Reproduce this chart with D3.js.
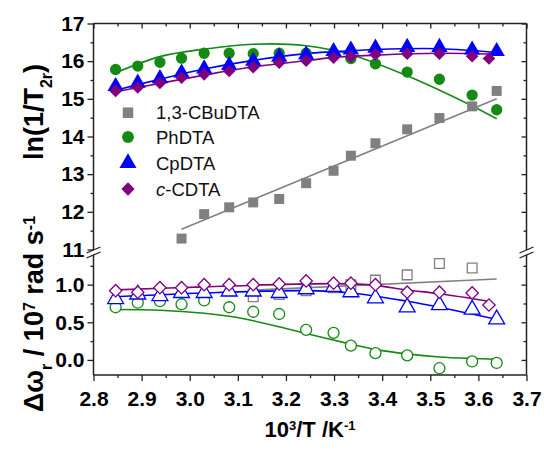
<!DOCTYPE html>
<html><head><meta charset="utf-8">
<script src="https://cdn.jsdelivr.net/npm/d3@7"></script>
<style>body{margin:0;background:#fff}svg{font-family:"Liberation Sans",Arial,sans-serif}</style>
</head><body><svg id="c" width="544" height="450"></svg>
<script>
// ---------- data (10^3/T in K^-1) ----------
const invT = [2.846, 2.892, 2.938, 2.983, 3.030, 3.082, 3.132, 3.186, 3.242, 3.299, 3.335, 3.386, 3.452, 3.519, 3.587, 3.638];
const invTcdta = [2.846, 2.892, 2.938, 2.983, 3.030, 3.082, 3.132, 3.186, 3.242, 3.299, 3.335, 3.386, 3.452, 3.519, 3.587, 3.622];
const invTcbu = [2.983, 3.030, 3.082, 3.132, 3.186, 3.242, 3.299, 3.335, 3.386, 3.452, 3.519, 3.587, 3.638];
const invTcbuDw = [3.132, 3.186, 3.242, 3.299, 3.335, 3.386, 3.452, 3.519, 3.587];

// ln(1/T2r)
const lnCBu  = [11.29, 11.94, 12.12, 12.25, 12.34, 12.76, 13.09, 13.49, 13.82, 14.19, 14.49, 14.80, 15.21];
const lnPh   = [15.78, 15.87, 15.97, 16.08, 16.21, 16.21, 16.20, 16.21, 16.21, 16.15, 16.07, 15.93, 15.71, 15.52, 15.10, 14.71];
const lnCp   = [15.33, 15.42, 15.54, 15.69, 15.80, 15.89, 16.00, 16.11, 16.17, 16.26, 16.30, 16.35, 16.37, 16.37, 16.30, 16.26];
const lnCD   = [15.21, 15.30, 15.42, 15.56, 15.65, 15.74, 15.84, 15.96, 16.01, 16.09, 16.12, 16.18, 16.20, 16.20, 16.13, 16.07];

// delta omega_r / 10^7 rad s^-1
const dwCBu  = [0.84, 0.87, 0.92, 0.96, 1.00, 1.06, 1.13, 1.28, 1.22];
const dwPh   = [0.70, 0.76, 0.78, 0.74, 0.79, 0.70, 0.64, 0.61, 0.40, 0.36, 0.19, 0.09, 0.06, -0.11, -0.02, -0.04];
const dwCp   = [0.81, 0.87, 0.85, 0.89, 0.89, 0.91, 0.91, 0.89, 0.94, 0.97, 0.90, 0.82, 0.70, 0.73, 0.67, 0.54];
const dwCD   = [0.92, 0.90, 0.96, 0.96, 1.00, 1.00, 1.00, 1.01, 1.05, 1.02, 1.02, 1.00, 0.90, 0.90, 0.89, 0.73];

// fitted curves
const fitLnCBuX = [2.983, 3.638], fitLnCBuY = [11.54, 15.00];
const fitLnPhX = [2.846, 2.938, 3.030, 3.132, 3.242, 3.335, 3.452, 3.587, 3.638];
const fitLnPhY = [15.69, 16.12, 16.32, 16.45, 16.41, 16.17, 15.61, 14.81, 14.47];
const fitLnCpX = [2.846, 2.938, 3.030, 3.132, 3.242, 3.299, 3.386, 3.519, 3.638];
const fitLnCpY = [15.23, 15.52, 15.79, 16.02, 16.20, 16.25, 16.31, 16.33, 16.23];
const fitLnCDX = [2.846, 2.938, 3.030, 3.132, 3.242, 3.299, 3.386, 3.519, 3.622];
const fitLnCDY = [15.19, 15.41, 15.63, 15.85, 16.01, 16.10, 16.16, 16.21, 16.19];
const fitDwCBuX = [3.132, 3.638], fitDwCBuY = [0.927, 1.076];
const fitDwPhX = [2.846, 2.938, 3.030, 3.082, 3.132, 3.186, 3.242, 3.335, 3.386, 3.452, 3.519, 3.587, 3.638];
const fitDwPhY = [0.67, 0.66, 0.62, 0.58, 0.52, 0.44, 0.35, 0.21, 0.14, 0.08, 0.04, 0.02, 0.01];
const fitDwCpX = [2.846, 3.030, 3.242, 3.335, 3.452, 3.519, 3.638];
const fitDwCpY = [0.84, 0.89, 0.92, 0.89, 0.78, 0.70, 0.54];
const fitDwCDX = [2.846, 3.030, 3.242, 3.335, 3.386, 3.452, 3.519, 3.622];
const fitDwCDY = [0.93, 0.97, 1.01, 1.01, 0.99, 0.93, 0.88, 0.78];

const names = ["1,3-CBuDTA", "PhDTA", "CpDTA", "c-CDTA"];
const colors = ["#808080", "#138a13", "#0000ff", "#800080"];

const xTicks = [2.8, 2.9, 3.0, 3.1, 3.2, 3.3, 3.4, 3.5, 3.6, 3.7];
const yUTicks = [11, 12, 13, 14, 15, 16, 17];
const yLTicks = [0.0, 0.5, 1.0];

// ---------- drawing ----------
const svg = d3.select("#c");
const L = 93.5, R = 526.5, T = 23.5, B = 375, BRK = 252.5;
const x = d3.scaleLinear().domain([2.8, 3.7]).range([L, R]);
const yU = d3.scaleLinear().domain([10.92, 17]).range([BRK, T]);
const yL = d3.scaleLinear().domain([-0.2, 1.427]).range([B, BRK]);

const axisCol = "#222";
const gAx = svg.append("g");
function styleAxis(g) { g.select(".domain").remove(); g.selectAll("line").attr("stroke", axisCol).attr("stroke-width", 1.3); }
const fontTick = "bold 21px 'Liberation Sans', Arial, sans-serif";

// bottom
const minorX = d3.range(2.85, 3.7, 0.1);
gAx.append("g").attr("transform", `translate(0,${B})`).call(d3.axisBottom(x).tickValues(xTicks).tickSize(6).tickPadding(10).tickFormat(d3.format(".1f")))
  .call(styleAxis).call(g => g.selectAll("text").style("font", fontTick).attr("fill", "#000"));
gAx.append("g").attr("transform", `translate(0,${B})`).call(d3.axisBottom(x).tickValues(minorX).tickSize(3).tickFormat("")).call(styleAxis);
// top (inward)
gAx.append("g").attr("transform", `translate(0,${T})`).call(d3.axisBottom(x).tickValues(xTicks).tickSize(5).tickFormat("")).call(styleAxis);
gAx.append("g").attr("transform", `translate(0,${T})`).call(d3.axisBottom(x).tickValues(minorX).tickSize(3).tickFormat("")).call(styleAxis);
// left
const minorU = [11.5, 12.5, 13.5, 14.5, 15.5, 16.5];
gAx.append("g").attr("transform", `translate(${L},0)`).call(d3.axisLeft(yU).tickValues(yUTicks).tickSize(6).tickPadding(3).tickFormat(d3.format("d")))
  .call(styleAxis).call(g => g.selectAll("text").style("font", fontTick).attr("fill", "#000"));
gAx.append("g").attr("transform", `translate(${L},0)`).call(d3.axisLeft(yU).tickValues(minorU).tickSize(3).tickFormat("")).call(styleAxis);
gAx.append("g").attr("transform", `translate(${L},0)`).call(d3.axisLeft(yL).tickValues(yLTicks).tickSize(6).tickPadding(3).tickFormat(d3.format(".1f")))
  .call(styleAxis).call(g => g.selectAll("text").style("font", fontTick).attr("fill", "#000"));
gAx.append("g").attr("transform", `translate(${L},0)`).call(d3.axisLeft(yL).tickValues([0.25, 0.75, 1.25]).tickSize(3).tickFormat("")).call(styleAxis);
// right (inward)
gAx.append("g").attr("transform", `translate(${R},0)`).call(d3.axisRight(yU).tickValues(yUTicks.filter(d => d > 11)).tickSize(-5).tickFormat("")).call(styleAxis);
gAx.append("g").attr("transform", `translate(${R},0)`).call(d3.axisRight(yU).tickValues(minorU).tickSize(-3).tickFormat("")).call(styleAxis);
gAx.append("g").attr("transform", `translate(${R},0)`).call(d3.axisRight(yL).tickValues(yLTicks).tickSize(-5).tickFormat("")).call(styleAxis);
gAx.append("g").attr("transform", `translate(${R},0)`).call(d3.axisRight(yL).tickValues([0.25, 0.75, 1.25]).tickSize(-3).tickFormat("")).call(styleAxis);

// frame lines with break gap
const gapTop = BRK - 2.5, gapBot = BRK + 2.5;
[[L, T, R, T], [L, B, R, B], [L, T, L, gapTop], [L, gapBot, L, B], [R, T, R, gapTop], [R, gapBot, R, B]].forEach(s =>
  gAx.append("line").attr("x1", s[0]).attr("y1", s[1]).attr("x2", s[2]).attr("y2", s[3]).attr("stroke", axisCol).attr("stroke-width", 1.5));
[L, R].forEach(cx => {
  [gapTop, gapBot].forEach(cy => gAx.append("line").attr("x1", cx - 7).attr("y1", cy + 3).attr("x2", cx + 7).attr("y2", cy - 3)
    .attr("stroke", axisCol).attr("stroke-width", 1.3));
});

// fit lines
const line = (ys) => d3.line().x(d => x(d[0])).y(d => ys(d[1])).curve(d3.curveCatmullRom.alpha(0.5));
const zip = (a, b) => a.map((v, i) => [v, b[i]]);
const gL = svg.append("g").attr("fill", "none").attr("stroke-width", 1.6);
[[fitLnCBuX, fitLnCBuY, 0, yU], [fitLnPhX, fitLnPhY, 1, yU], [fitLnCpX, fitLnCpY, 2, yU], [fitLnCDX, fitLnCDY, 3, yU],
 [fitDwCBuX, fitDwCBuY, 0, yL], [fitDwPhX, fitDwPhY, 1, yL], [fitDwCpX, fitDwCpY, 2, yL], [fitDwCDX, fitDwCDY, 3, yL]]
  .forEach(([fx, fy, ci, ys]) => gL.append("path").attr("d", line(ys)(zip(fx, fy))).attr("stroke", colors[ci]));

// markers
const symTypes = [d3.symbolSquare, d3.symbolCircle, d3.symbolTriangle, d3.symbolSquare];
const symSizes = [100, 100, 115, 80];
const symRot = [0, 0, 0, 45];
function drawPts(xs, vs, ci, ys, hollow) {
  const gen = d3.symbol().type(symTypes[ci]).size(hollow ? symSizes[ci] * 0.95 : symSizes[ci]);
  svg.append("g").selectAll("path").data(zip(xs, vs)).join("path")
    .attr("d", gen)
    .attr("transform", d => `translate(${x(d[0])},${ys(d[1])}) rotate(${symRot[ci]})`)
    .attr("fill", hollow ? "#fff" : colors[ci])
    .attr("stroke", colors[ci]).attr("stroke-width", hollow ? 1.3 : 0);
}
drawPts(invTcbu, lnCBu, 0, yU, false);
drawPts(invT, lnPh, 1, yU, false);
drawPts(invT, lnCp, 2, yU, false);
drawPts(invTcdta, lnCD, 3, yU, false);
drawPts(invTcbuDw, dwCBu, 0, yL, true);
drawPts(invT, dwPh, 1, yL, true);
drawPts(invT, dwCp, 2, yL, true);
drawPts(invTcdta, dwCD, 3, yL, true);

// legend
const legY = [112.7, 137, 163, 189];
const lg = svg.append("g");
names.forEach((n, i) => {
  const gen = d3.symbol().type(symTypes[i]).size(symSizes[i] * 1.1);
  lg.append("path").attr("d", gen).attr("transform", `translate(128,${legY[i]}) rotate(${symRot[i]})`).attr("fill", colors[i]);
  const t = lg.append("text").attr("x", 156).attr("y", legY[i] + 6.5).style("font", "18.5px 'Liberation Sans', Arial, sans-serif").attr("fill", "#111");
  if (n.startsWith("c-")) { t.append("tspan").attr("font-style", "italic").text("c"); t.append("tspan").text(n.slice(1)); }
  else t.text(n);
});

// axis titles
const xt = svg.append("text").attr("x", 310).attr("y", 437).attr("text-anchor", "middle").style("font", "bold 22px 'Liberation Sans', Arial, sans-serif");
xt.append("tspan").text("10");
xt.append("tspan").attr("baseline-shift", "super").attr("font-size", "13px").text("3");
xt.append("tspan").text("/T /K");
xt.append("tspan").attr("baseline-shift", "super").attr("font-size", "13px").text("-1");

const yFont = "bold 27px 'Liberation Sans', Arial, sans-serif";
const yt1 = svg.append("text").attr("transform", "translate(43,112) rotate(-90)").attr("text-anchor", "middle").style("font", yFont);
yt1.append("tspan").text("ln(1/T");
yt1.append("tspan").attr("baseline-shift", "sub").attr("font-size", "16px").text("2r");
yt1.append("tspan").text(")");

const yt2 = svg.append("text").attr("transform", "translate(43,314) rotate(-90)").attr("text-anchor", "middle").style("font", yFont);
yt2.append("tspan").text("\u0394\u03c9");
yt2.append("tspan").attr("baseline-shift", "sub").attr("font-size", "16px").text("r");
yt2.append("tspan").text(" / 10");
yt2.append("tspan").attr("baseline-shift", "super").attr("font-size", "16px").text("7");
yt2.append("tspan").text(" rad s");
yt2.append("tspan").attr("baseline-shift", "super").attr("font-size", "16px").text("-1");
</script></body></html>
